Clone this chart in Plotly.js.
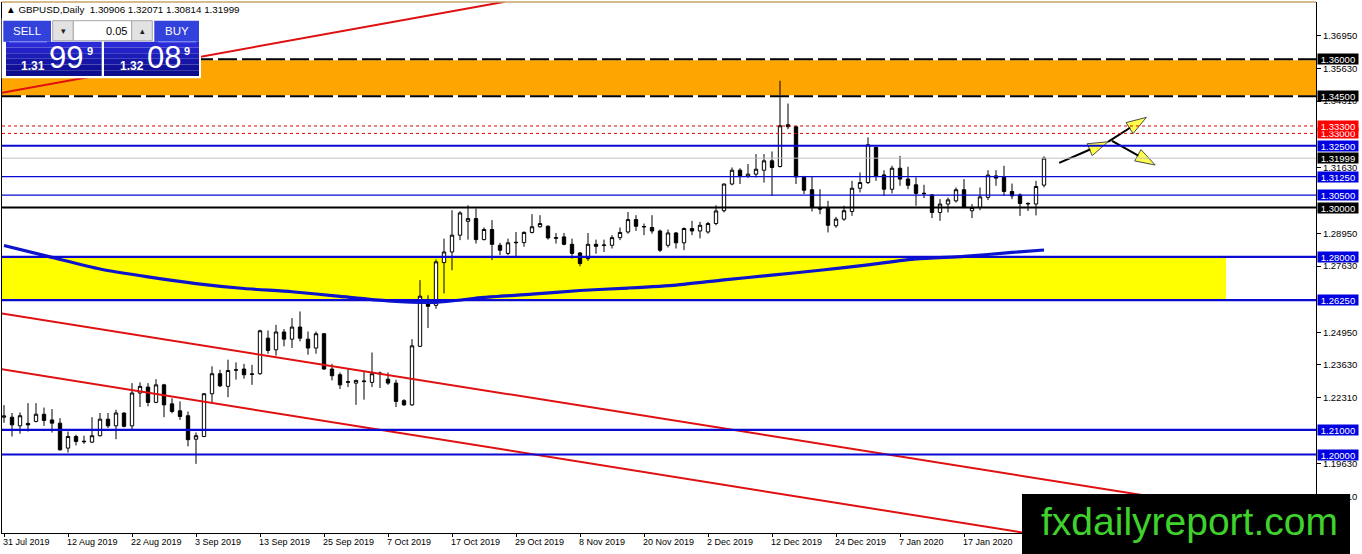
<!DOCTYPE html>
<html><head><meta charset="utf-8">
<script src="https://cdn.plot.ly/plotly-3.0.1.min.js"></script>
<style>html,body{margin:0;padding:0;background:#fff;overflow:hidden}#chart{width:1362px;height:554px}</style>
</head><body><div id="chart"></div>
<script>
// ---------------- DATA (GBPUSD Daily, 31 Jul 2019 - 31 Jan 2020) ----------------
const opens = [1.2151,1.2151,1.2116,1.2126,1.2134,1.2163,1.2140,1.2127,1.2026,1.2073,
1.2054,1.2050,1.2076,1.2143,1.2116,1.2168,1.2116,1.2249,1.2273,1.2211,
1.2282,1.2205,1.2177,1.2157,1.2062,1.2073,1.2246,1.2327,1.2276,1.2341,
1.2346,1.2324,1.2327,1.2471,1.2424,1.2496,1.2467,1.2516,1.2467,1.2431,
1.2489,1.2346,1.2323,1.2295,1.2289,1.2295,1.2292,1.2330,1.2305,1.2289,
1.2218,1.2201,1.2438,1.2615,1.2604,1.2777,1.2820,1.2888,1.2944,1.2955,
1.2870,1.2911,1.2847,1.2814,1.2857,1.2858,1.2899,1.2922,1.2924,1.2878,
1.2881,1.2851,1.2816,1.2793,1.2851,1.2846,1.2847,1.2878,1.2901,1.2951,
1.2921,1.2919,1.2905,1.2847,1.2897,1.2857,1.2915,1.2905,1.2901,1.2935,
1.2987,1.3095,1.3151,1.3126,1.3135,1.3151,1.3189,1.3166,1.3335,1.3327,
1.3122,1.3072,1.2998,1.2997,1.2926,1.2953,1.2984,1.3078,1.3101,1.3243,
1.3132,1.3074,1.3159,1.3115,1.3092,1.3058,1.3051,1.2980,1.3014,1.3027,
1.3072,1.2987,1.3000,1.3041,1.3128,1.3122,1.3065,1.3051,1.3017,1.3014,
1.30906];
const highs = [1.2200,1.2168,1.2170,1.2208,1.2208,1.2190,1.2184,1.2147,1.2093,1.2080,
1.2076,1.2151,1.2168,1.2168,1.2181,1.2170,1.2289,1.2292,1.2289,1.2305,
1.2286,1.2228,1.2215,1.2174,1.2089,1.2249,1.2357,1.2343,1.2384,1.2373,
1.2367,1.2363,1.2505,1.2502,1.2525,1.2508,1.2552,1.2579,1.2498,1.2498,
1.2491,1.2367,1.2332,1.2346,1.2303,1.2336,1.2413,1.2336,1.2332,1.2303,
1.2224,1.2467,1.2706,1.2645,1.2790,1.2874,1.2989,1.2985,1.3009,1.2996,
1.2919,1.2949,1.2857,1.2874,1.2901,1.2904,1.2973,1.2969,1.2928,1.2897,
1.2897,1.2874,1.2820,1.2897,1.2870,1.2870,1.2888,1.2919,1.2982,1.2969,
1.2935,1.2969,1.2911,1.2911,1.2901,1.2919,1.2946,1.2942,1.2942,1.3009,
1.3097,1.3162,1.3159,1.3176,1.3216,1.3216,1.3227,1.3513,1.3421,1.3331,
1.3128,1.3124,1.3074,1.3027,1.2962,1.3007,1.3108,1.3142,1.3284,1.3243,
1.3151,1.3169,1.3209,1.3165,1.3122,1.3092,1.3054,1.3034,1.3040,1.3081,
1.3115,1.3014,1.3081,1.3151,1.3151,1.3169,1.3097,1.3057,1.3020,1.3108,
1.32071];
const lows = [1.2128,1.2073,1.2084,1.2093,1.2130,1.2116,1.2089,1.2016,1.2008,1.2037,
1.2043,1.2046,1.2073,1.2107,1.2062,1.2110,1.2103,1.2192,1.2195,1.2208,
1.2151,1.2167,1.2140,1.2033,1.1962,1.2070,1.2208,1.2273,1.2232,1.2303,
1.2307,1.2282,1.2323,1.2408,1.2400,1.2438,1.2431,1.2458,1.2404,1.2408,
1.2343,1.2300,1.2265,1.2273,1.2201,1.2222,1.2273,1.2269,1.2282,1.2192,
1.2197,1.2197,1.2435,1.2512,1.2590,1.2652,1.2746,1.2868,1.2870,1.2854,
1.2867,1.2787,1.2807,1.2807,1.2800,1.2841,1.2895,1.2919,1.2870,1.2854,
1.2847,1.2793,1.2762,1.2784,1.2813,1.2820,1.2834,1.2868,1.2894,1.2905,
1.2888,1.2894,1.2820,1.2838,1.2834,1.2827,1.2888,1.2875,1.2894,1.2928,
1.2980,1.3090,1.3095,1.3120,1.3122,1.3101,1.3047,1.3162,1.3317,1.3095,
1.3054,1.2984,1.2973,1.2899,1.2918,1.2946,1.2966,1.3061,1.3095,1.3108,
1.3047,1.3057,1.3088,1.3074,1.3007,1.3038,1.2957,1.2946,1.2980,1.3020,
1.2997,1.2957,1.2989,1.3030,1.3088,1.3047,1.3034,1.2966,1.2986,1.2968,
1.30814];
const closes = [1.2156,1.2120,1.2157,1.2120,1.2163,1.2138,1.2127,1.2019,1.2073,1.2053,
1.2052,1.2076,1.2143,1.2116,1.2168,1.2114,1.2249,1.2276,1.2211,1.2282,
1.2201,1.2174,1.2154,1.2060,1.2076,1.2246,1.2327,1.2278,1.2340,1.2343,
1.2323,1.2326,1.2501,1.2421,1.2496,1.2467,1.2516,1.2471,1.2431,1.2489,
1.2346,1.2319,1.2282,1.2293,1.2300,1.2297,1.2327,1.2327,1.2289,1.2215,
1.2201,1.2440,1.2641,1.2600,1.2780,1.2820,1.2888,1.2978,1.2955,1.2870,
1.2911,1.2851,1.2827,1.2857,1.2859,1.2899,1.2922,1.2935,1.2877,1.2876,
1.2851,1.2814,1.2773,1.2851,1.2843,1.2848,1.2878,1.2899,1.2951,1.2924,
1.2923,1.2905,1.2827,1.2897,1.2857,1.2915,1.2905,1.2928,1.2935,1.2986,
1.3095,1.3151,1.3128,1.3135,1.3155,1.3189,1.3162,1.3331,1.3327,1.3124,
1.3070,1.3000,1.2994,1.2928,1.2953,1.2987,1.3078,1.3101,1.3254,1.3128,
1.3074,1.3159,1.3115,1.3090,1.3057,1.3056,1.2980,1.3014,1.3031,1.3072,
1.3000,1.3000,1.3043,1.3131,1.3119,1.3065,1.3047,1.3016,1.3015,1.3085,
1.31999];

// moving average (blue curve) read at selected bars
const maBars   = [0,6,12,18,24,30,36,42,48,54,60,66,72,78,84,90,96,102,108,114,120,126,130];
const maValues = [1.2846,1.2798,1.2751,1.2719,1.2692,1.2672,1.2659,1.2640,1.2622,1.2616,1.2636,1.2649,1.2664,1.2674,1.2686,1.2707,1.2726,1.2746,1.2768,1.2792,1.2802,1.2818,1.2828];

// x-axis date labels
const dateTickBars = [0,8,16,24,32,40,48,56,64,72,80,88,96,104,112,120];
const dateTickLabels = ["31 Jul 2019","12 Aug 2019","22 Aug 2019","3 Sep 2019","13 Sep 2019","25 Sep 2019","7 Oct 2019","17 Oct 2019","29 Oct 2019","8 Nov 2019","20 Nov 2019","2 Dec 2019","12 Dec 2019","24 Dec 2019","7 Jan 2020","17 Jan 2020"];

// price scale ticks
const priceTicks = [1.3695,1.3563,1.3431,1.3163,1.2895,1.2763,1.2495,1.2363,1.2231,1.1963,1.1831];

// drawn levels
const blueLevels  = [1.325,1.3125,1.305,1.28,1.2625,1.21,1.20];
const blackLevels = [1.30];
const redLevels   = [1.333,1.330];
const orangeZone  = [1.345,1.36];
const yellowZone  = [1.2625,1.28];
const yellowZoneEndBar = 152.75;
const bidPrice = 1.31999;

// label boxes on the price scale
const blackLabels = [1.36,1.345,1.31999,1.30];
const redLabels   = [1.330,1.333];

// trend lines (bar index, price)
const trendUpBars = [-0.25,62.6],  trendUpPrices = [1.3465,1.3833];
const chanTopBars = [-0.5,164],    chanTopPrices = [1.2572,1.1724];
const chanLowBars = [-0.5,164],    chanLowPrices = [1.2346,1.1494];

// scenario arrows (bar index, price)
const arrowStartBars   = [131.9,138.0,138.5];
const arrowStartPrices = [1.3181,1.3266,1.3270];
const arrowEndBars     = [138.0,142.8,143.9];
const arrowEndPrices   = [1.3266,1.3365,1.3172];

// header / trade panel texts
const symbolTitle = "▲ GBPUSD,Daily  1.30906 1.32071 1.30814 1.31999";
const lotSize = "0.05";
const sellPrice = ["1.31","99","9"];
const buyPrice  = ["1.32","08","9"];
const watermark = "fxdailyreport.com";

// ---------------- LAYOUT HELPERS ----------------
const W=1362,H=554,ML=2,MR=46,MT=2,MB=21;
const PW=W-ML-MR, PH=H-MT-MB;
const px = x => (x-ML)/PW;
const py = y => 1-(y-MT)/PH;
const FONT = "Liberation Sans, Arial, sans-serif";
const BLUE = "#0a0ad2";

const shapes = [];
const annotations = [];

function hline(p, color, width, dash, layer){
  shapes.push({type:'line', xref:'paper', x0:0, x1:1, yref:'y', y0:p, y1:p,
    line:{color:color, width:width, dash:dash||'solid'}, layer:layer||'above'});
}
function prect(x0,y0,x1,y1,fill,lineColor){
  shapes.push({type:'rect', xref:'paper', yref:'paper', x0:px(x0), x1:px(x1), y0:py(y1), y1:py(y0),
    fillcolor:fill, line:{color:lineColor||fill, width:lineColor?1:0}, layer:'above'});
}
function pline(x0,y0,x1,y1,color){
  shapes.push({type:'line', xref:'paper', yref:'paper', x0:px(x0), x1:px(x1), y0:py(y0), y1:py(y1),
    line:{color:color, width:1}, layer:'above'});
}
function ptext(x,y,text,size,color,anchor,bold){
  annotations.push({xref:'paper', yref:'paper', x:px(x), y:py(y), text:bold?'<b>'+text+'</b>':text,
    showarrow:false, xanchor:anchor||'left', yanchor:'middle', borderpad:0,
    font:{family:FONT, size:size, color:color}});
}

// zones
shapes.push({type:'rect', xref:'paper', x0:0, x1:1, yref:'y', y0:orangeZone[0], y1:orangeZone[1],
  fillcolor:'#ffa500', line:{width:0}, layer:'below'});
shapes.push({type:'rect', xref:'x', x0:-0.25, x1:yellowZoneEndBar, yref:'y', y0:yellowZone[0], y1:yellowZone[1],
  fillcolor:'#ffff00', line:{width:0}, layer:'below'});
orangeZone.forEach(p=>{ hline(p,'#ffffff',2); hline(p,'#000000',2,'19px,5px'); });
redLevels.forEach(p=>hline(p,'#e00000',1,'3px,3px'));
hline(bidPrice,'#c0c0c0',1);
blueLevels.forEach(p=>{
  const thin = (p===1.3125||p===1.305);
  hline(p,BLUE,thin?1.2:2.2);
});
blackLevels.forEach(p=>hline(p,'#000000',2.2));

// top frame line
shapes.push({type:'line', xref:'paper', yref:'paper', x0:0, x1:1, y0:1, y1:1, line:{color:'#c8a46a', width:1.5}, layer:'above'});

// trade panel
prect(1.7,18.3,201,78.3,'#ffffff');
prect(3.3,20.7,51,41.7,'#3242da');
prect(52.7,20.7,73.3,40.7,'#e2e2e2','#a8a8a8');
prect(73.3,20.7,131.7,40.7,'#ffffff','#a8a8a8');
prect(131.7,20.7,152.3,40.7,'#e2e2e2','#a8a8a8');
prect(154.3,20.7,199,41.7,'#3242da');
const bandCols = ['#2a2ad6','#2222c6','#1c1cb6','#1616a6','#101098','#0c0c8c'];
bandCols.forEach((c,k)=>{
  const y0 = 41.7 + k*(34.3/bandCols.length), y1 = 41.7 + (k+1)*(34.3/bandCols.length);
  prect(6,y0,101.7,y1,c);
  prect(104,y0,199,y1,c);
});
pline(9,41.9,47,41.9,'#8c98f4');
pline(158,41.9,196,41.9,'#8c98f4');

// watermark box
prect(1022,494,1350,554,'#000000');

// ---------------- ANNOTATIONS ----------------
ptext(5,9.5,symbolTitle,9.8,'#000000','left');
ptext(27,31,'SELL',11.5,'#ffffff','center');
ptext(176.5,31,'BUY',11.5,'#ffffff','center');
ptext(63,30.5,'▾',9,'#202020','center');
ptext(142,30.5,'▴',9,'#202020','center');
ptext(128,30.5,lotSize,11,'#000000','right');
ptext(20,66,sellPrice[0],12,'#ffffff','left',true);
ptext(47.5,57.5,sellPrice[1],31,'#ffffff','left');
ptext(85.5,51,sellPrice[2],11,'#ffffff','left',true);
ptext(118.5,66,buyPrice[0],12,'#ffffff','left',true);
ptext(145.5,57.5,buyPrice[1],31,'#ffffff','left');
ptext(182.5,51,buyPrice[2],11,'#ffffff','left',true);
ptext(1189,521,watermark,39,'#3fd22c','center');

// date labels (left aligned at tick like MT4)
dateTickBars.forEach((b,k)=>{
  annotations.push({xref:'x', yref:'paper', x:b, y:0, yanchor:'top', xanchor:'left', xshift:-2, yshift:-3,
    text:dateTickLabels[k], showarrow:false, borderpad:0, font:{family:FONT, size:9, color:'#000'}});
});

// price label boxes
function priceLabel(p,bg){
  annotations.push({xref:'paper', yref:'y', x:1, y:p, xanchor:'left', yanchor:'middle', xshift:1,
    text:p.toFixed(5), showarrow:false, bgcolor:bg, width:40, height:10, borderpad:0, align:'center',
    font:{family:FONT, size:9.5, color:'#ffffff'}});
}
blueLevels.forEach(p=>priceLabel(p,'#0000e0'));
redLabels.forEach(p=>priceLabel(p,'#ff0000'));
blackLabels.forEach(p=>priceLabel(p,'#000000'));

// ---------------- TRACES ----------------
const barIdx = opens.map((_,i)=>i);
const traces = [
  {type:'candlestick', x:barIdx, open:opens, high:highs, low:lows, close:closes,
   increasing:{line:{color:'#000000', width:1}, fillcolor:'#ffffff'},
   decreasing:{line:{color:'#000000', width:1}, fillcolor:'#000000'},
   whiskerwidth:0, hoverinfo:'skip'},
  {type:'scatter', mode:'lines', x:maBars, y:maValues, line:{color:'#0c14cc', width:3.2, shape:'spline', smoothing:0.6}, hoverinfo:'skip'},
  {type:'scatter', mode:'lines', x:trendUpBars, y:trendUpPrices, line:{color:'#e01010', width:2}, hoverinfo:'skip'},
  {type:'scatter', mode:'lines', x:chanTopBars, y:chanTopPrices, line:{color:'#e01010', width:2}, hoverinfo:'skip'},
  {type:'scatter', mode:'lines', x:chanLowBars, y:chanLowPrices, line:{color:'#e01010', width:2}, hoverinfo:'skip'}
];
arrowStartBars.forEach((b,k)=>{
  traces.push({type:'scatter', mode:'lines+markers', x:[b,arrowEndBars[k]], y:[arrowStartPrices[k],arrowEndPrices[k]],
    line:{color:'#000000', width:2},
    marker:{symbol:['circle','arrow'], size:[0,21], angleref:'previous', color:'#ffff00', line:{color:'#000000', width:1}},
    cliponaxis:false, hoverinfo:'skip'});
});

const layout = {
  width:W, height:H, margin:{l:ML, r:MR, t:MT, b:MB, pad:0},
  paper_bgcolor:'#ffffff', plot_bgcolor:'#ffffff', showlegend:false,
  hovermode:false, dragmode:false, boxgap:0.4,
  xaxis:{range:[-0.25,164], showgrid:false, zeroline:false, rangeslider:{visible:false},
    showline:true, linecolor:'#000000', linewidth:1, mirror:false,
    tickvals:dateTickBars, ticktext:dateTickLabels, showticklabels:false,
    ticks:'outside', ticklen:3, tickcolor:'#000000', tickwidth:1},
  yaxis:{range:[1.16822,1.38320], side:'right', showgrid:false, zeroline:false,
    showline:true, linecolor:'#000000', linewidth:1, mirror:true,
    tickvals:priceTicks, tickformat:'.5f', ticks:'outside', ticklen:4, tickcolor:'#000000',
    tickfont:{family:FONT, size:9.5, color:'#000000'}},
  shapes:shapes, annotations:annotations
};
Plotly.newPlot('chart', traces, layout, {displayModeBar:false, staticPlot:true});
</script></body></html>
